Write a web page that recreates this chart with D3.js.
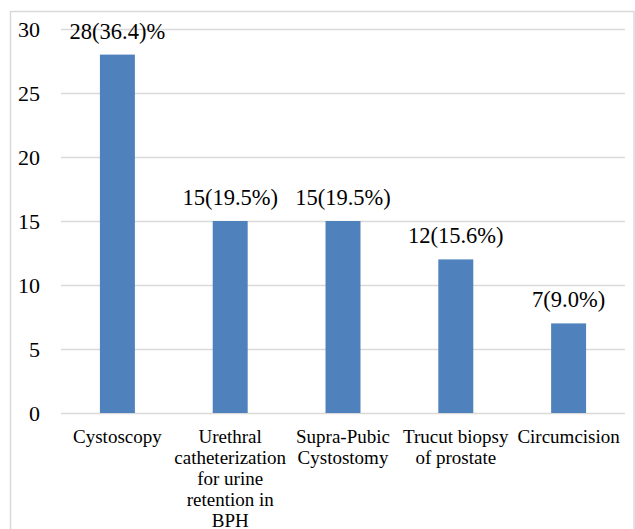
<!DOCTYPE html>
<html>
<head>
<meta charset="utf-8">
<script src="https://cdn.jsdelivr.net/npm/d3@7"></script>
</head>
<body style="margin:0">
<script>
// data
const categories = ['Cystoscopy', 'Urethral catheterization', 'Supra-Pubic Cystostomy', 'Trucut biopsy of prostate', 'Circumcision']
const categoryLines = [
    ['Cystoscopy'],
    ['Urethral', 'catheterization', 'for urine', 'retention in', 'BPH'],
    ['Supra-Pubic', 'Cystostomy'],
    ['Trucut biopsy', 'of prostate'],
    ['Circumcision']
]
const values = [28, 15, 15, 12, 7]
const valueLabels = ['28(36.4)%', '15(19.5%)', '15(19.5%)', '12(15.6%)', '7(9.0%)']
const yTicks = [0, 5, 10, 15, 20, 25, 30]

const FONT = 'Liberation Serif'
const W = 635, H = 529
const margin = {top: 29, right: 10, bottom: 116, left: 61}
const width = 625 - margin.left
const height = 413 - margin.top

const svg = d3.select('body').append('svg')
    .attr('width', W)
    .attr('height', H)
    .attr('font-family', FONT)

// chart frame
svg.append('rect')
    .attr('x', 10.5)
    .attr('y', 11.5)
    .attr('width', 623.5)
    .attr('height', 540)
    .attr('fill', 'none')
    .attr('stroke', '#d9d9d9')
    .attr('stroke-width', 1.5)

const x = d3.scaleBand()
    .domain(categories)
    .range([margin.left, margin.left + width])
    .paddingInner(0.69)
    .paddingOuter(0.345)
const y = d3.scaleLinear()
    .domain([0, 30])
    .range([margin.top + height, margin.top])

// gridlines + y labels
const yAxis = d3.axisLeft(y)
    .tickValues(yTicks)
    .tickSize(-width)
    .tickPadding(21)
svg.append('g')
    .attr('class', 'axis axis--y')
    .attr('transform', `translate(${margin.left},0)`)
    .call(yAxis)
    .attr('font-family', FONT)
    .attr('font-size', 22)
    .call(a => a.select('.domain').remove())
    .call(a => a.selectAll('line').attr('stroke', '#d9d9d9').attr('stroke-width', 1.5))
    .call(a => a.selectAll('text')
        .attr('font-family', FONT)
        .style('font-family', `"${FONT}"`)
        .attr('fill', '#000')
        .attr('dy', '0.33em'))

// bars
svg.selectAll('.bar')
    .data(values)
    .enter().append('rect')
    .attr('class', 'bar')
    .attr('x', (d, i) => x(categories[i]))
    .attr('y', d => y(d))
    .attr('width', x.bandwidth())
    .attr('height', d => y(0) - y(d))
    .attr('fill', '#4f81bd')

// value labels
svg.selectAll('.vlabel')
    .data(values)
    .enter().append('text')
    .attr('class', 'vlabel')
    .attr('x', (d, i) => x(categories[i]) + x.bandwidth() / 2)
    .attr('y', d => y(d) - 16)
    .attr('text-anchor', 'middle')
    .attr('font-family', FONT)
    .style('font-family', `"${FONT}"`)
    .style('font-size', '22.5px')
    .text((d, i) => valueLabels[i])

// category labels, one text per line
categoryLines.forEach((lines, i) => {
    svg.selectAll(`.clabel${i}`)
        .data(lines)
        .enter().append('text')
        .attr('class', `clabel clabel${i}`)
        .attr('x', x(categories[i]) + x.bandwidth() / 2)
        .attr('y', (d, j) => y(0) + 30 + j * 21)
        .attr('text-anchor', 'middle')
        .attr('font-family', FONT)
        .style('font-family', `"${FONT}"`)
        .style('font-size', '19px')
        .text(d => d)
})
</script>
</body>
</html>
